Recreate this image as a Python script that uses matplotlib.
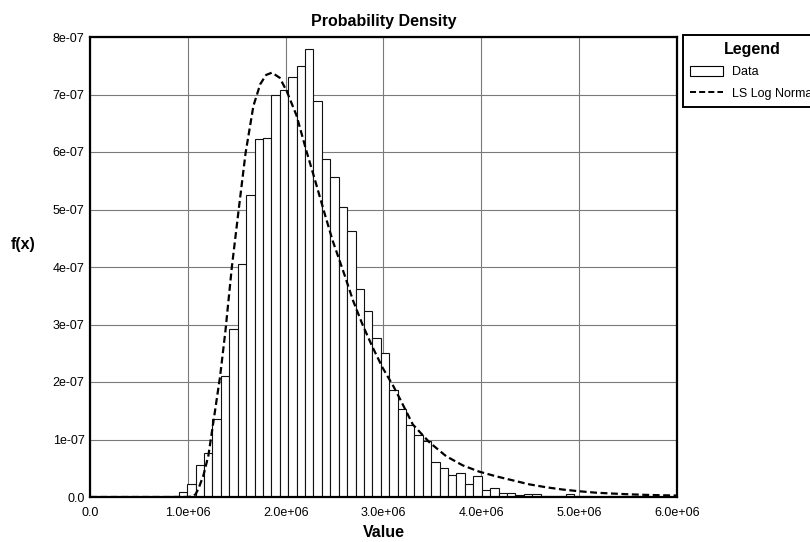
import matplotlib
matplotlib.use("Agg")
import matplotlib.pyplot as plt
from matplotlib.patches import Patch
from matplotlib.lines import Line2D
import numpy as np

plt.rcParams['font.family'] = ['Liberation Sans', 'DejaVu Sans']

# histogram: regular bins, density (units of 1e-7)
bin_start = 0.822e6
bin_width = 0.086e6
density = [0.02, 0.09, 0.23, 0.55, 0.76, 1.35, 2.10, 2.93, 4.05, 5.25,
           6.23, 6.24, 6.99, 7.07, 7.31, 7.50, 7.80, 6.89, 5.88, 5.57,
           5.04, 4.62, 3.62, 3.24, 2.77, 2.50, 1.86, 1.53, 1.25, 1.07,
           0.97, 0.61, 0.51, 0.38, 0.42, 0.22, 0.37, 0.13, 0.15, 0.075,
           0.075, 0.035, 0.06, 0.045, 0.02, 0.01, 0.01, 0.05, 0.015, 0.01,
           0.005, 0.005, 0.01, 0.02, 0.015, 0.02, 0.01, 0.005]

# fitted log normal curve (x in 1e6, y in 1e-7)
curve_x = [0.0, 1.00, 1.05, 1.08, 1.11, 1.16, 1.21, 1.265, 1.33, 1.385,
           1.45, 1.52, 1.59, 1.67, 1.74, 1.80, 1.86, 1.94, 2.01, 2.11,
           2.21, 2.30, 2.40, 2.48, 2.60, 2.69, 2.79, 2.89, 2.99, 3.10,
           3.17, 3.30, 3.47, 3.64, 3.81, 3.98, 4.15, 4.32, 4.49, 4.66,
           4.83, 5.00, 5.17, 5.34, 5.51, 5.68, 5.85, 6.00]
curve_y = [0.0, 0.0, 0.01, 0.05, 0.15, 0.38, 0.72, 1.35, 2.10, 2.90,
           4.00, 5.00, 5.98, 6.80, 7.18, 7.34, 7.38, 7.29, 7.06, 6.64,
           6.03, 5.51, 4.92, 4.46, 3.87, 3.41, 2.98, 2.60, 2.25, 1.93,
           1.70, 1.26, 0.95, 0.71, 0.55, 0.44, 0.36, 0.29, 0.22, 0.17,
           0.13, 0.10, 0.075, 0.06, 0.047, 0.037, 0.03, 0.025]

x_ticks = [0, 1e6, 2e6, 3e6, 4e6, 5e6, 6e6]
x_labels = ["0.0", "1.0e+06", "2.0e+06", "3.0e+06", "4.0e+06", "5.0e+06", "6.0e+06"]
y_ticks = [i * 1e-7 for i in range(9)]
y_labels = ["0.0", "1e-07", "2e-07", "3e-07", "4e-07", "5e-07", "6e-07", "7e-07", "8e-07"]

fig = plt.figure(figsize=(8.1, 5.42), dpi=100)
ax = fig.add_axes([90 / 810, 1 - 497 / 542, 587 / 810, 460 / 542])

lefts = bin_start + bin_width * np.arange(len(density))
ax.bar(lefts, np.array(density) * 1e-7, width=bin_width, align='edge',
       color='white', edgecolor='#111111', linewidth=0.8, zorder=2)
ax.plot(np.array(curve_x) * 1e6, np.array(curve_y) * 1e-7, color='black',
        linewidth=1.6, dashes=(3.1, 1.6), zorder=3)

ax.set_xlim(0, 6e6)
ax.set_ylim(0, 8e-7)
ax.set_xticks(x_ticks)
ax.set_xticklabels(x_labels)
ax.set_yticks(y_ticks)
ax.set_yticklabels(y_labels)
ax.tick_params(length=0, labelsize=9)
ax.tick_params(axis='x', pad=7)
ax.tick_params(axis='y', pad=4)
ax.set_axisbelow(True)
ax.grid(True, color='#7a7a7a', linewidth=0.8)
for sp in ax.spines.values():
    sp.set_linewidth(1.6)
    sp.set_color('black')

ax.set_title("Probability Density", fontsize=11.5, fontweight='bold', pad=8)
ax.set_xlabel("Value", fontsize=11.5, fontweight='bold', labelpad=4.5)
ax.set_ylabel("f(x)", fontsize=11.5, fontweight='bold', rotation=0, va='center', ha='left')
ax.yaxis.set_label_coords(-0.135, 0.55)

handles = [Patch(facecolor='white', edgecolor='black', linewidth=0.8),
           Line2D([0], [0], color='black', linewidth=1.4, dashes=(3.1, 1.6))]
leg = ax.legend(handles, ["Data", "LS Log Normal"], title="Legend",
                loc='upper left', bbox_to_anchor=(1.01, 1.005), borderaxespad=0,
                fontsize=9, title_fontproperties={'weight': 'bold', 'size': 11.5},
                fancybox=False, edgecolor='black', framealpha=1,
                handlelength=2.6, handleheight=0.9, handletextpad=0.7,
                labelspacing=0.7, borderpad=0.6)
leg.get_frame().set_linewidth(1.4)

fig.savefig("out.png", dpi=100)
